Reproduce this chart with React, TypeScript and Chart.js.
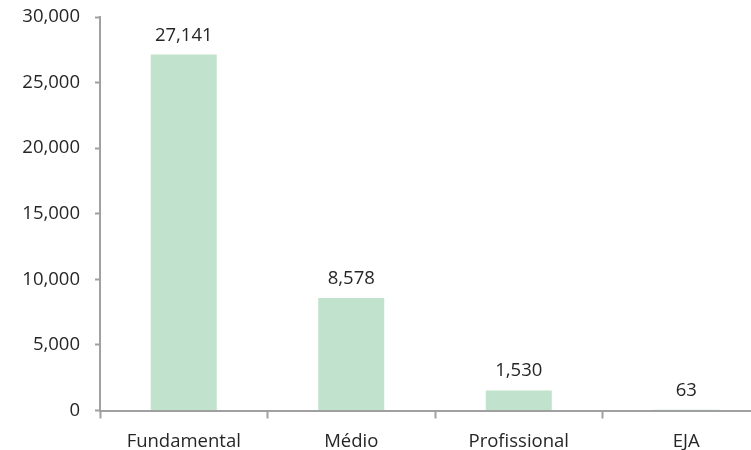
import React, { useEffect, useRef } from "react";
import { Chart, registerables } from "chart.js";

Chart.register(...registerables);

const categories = ["Fundamental", "Médio", "Profissional", "EJA"];
const values = [27141, 8578, 1530, 63];
const yTicks = [0, 5000, 10000, 15000, 20000, 25000, 30000];

const FONT = "'Open Sans', sans-serif";
const FS = 18.5;
const TEXT = "#262626";
const AXIS = "#a0a0a0";

const fmt = (v: number) => v.toLocaleString("en-US");

const labelPlugin = {
  id: "barLabels",
  afterDatasetsDraw(chart: any) {
    const ctx = chart.ctx;
    const meta = chart.getDatasetMeta(0);
    ctx.save();
    ctx.font = `${FS}px ${FONT}`;
    ctx.fillStyle = TEXT;
    ctx.textAlign = "center";
    ctx.textBaseline = "alphabetic";
    meta.data.forEach((bar: any, i: number) => {
      ctx.fillText(fmt(values[i]), bar.x, bar.y - 14);
    });
    ctx.restore();
  },
};

export default function App() {
  const ref = useRef<HTMLCanvasElement>(null);
  useEffect(() => {
    document.body.style.margin = "0";
    const chart = new Chart(ref.current!, {
      type: "bar",
      data: {
        labels: categories,
        datasets: [
          {
            data: values,
            backgroundColor: "#c1e2cc",
            categoryPercentage: 1,
            barPercentage: 0.394,
          },
        ],
      },
      options: {
        animation: false,
        responsive: false,
        layout: { padding: { top: 17, right: 0, left: 0, bottom: 0 } },
        plugins: { legend: { display: false }, tooltip: { enabled: false } },
        scales: {
          x: {
            grid: {
              display: true,
              drawOnChartArea: false,
              drawTicks: true,
              tickLength: 8,
              tickWidth: 2,
              color: AXIS,
              offset: true,
            },
            border: { display: true, color: AXIS, width: 2 },
            ticks: { color: TEXT, font: { family: FONT, size: FS }, padding: 12 },
            afterFit: (s: any) => {
              s.height = 39.5;
              s.paddingLeft = 0;
              s.paddingRight = 0;
            },
          },
          y: {
            min: 0,
            max: 30000,
            afterBuildTicks: (s: any) => {
              s.ticks = yTicks.map((v) => ({ value: v }));
            },
            grid: {
              display: true,
              drawOnChartArea: false,
              drawTicks: true,
              tickLength: 5,
              tickWidth: 2,
              color: AXIS,
            },
            border: { display: true, color: AXIS, width: 2 },
            ticks: {
              color: TEXT,
              font: { family: FONT, size: FS },
              padding: 15,
              callback: (v: any) => fmt(Number(v)),
            },
            afterFit: (s: any) => {
              s.width = 100;
              s.paddingTop = 0;
              s.paddingBottom = 0;
            },
          },
        },
      },
      plugins: [labelPlugin],
    });
    return () => chart.destroy();
  }, []);
  return (
    <div style={{ width: 751, height: 450, overflow: "hidden" }}>
      <canvas ref={ref} width={770} height={450} style={{ display: "block" }} />
    </div>
  );
}
